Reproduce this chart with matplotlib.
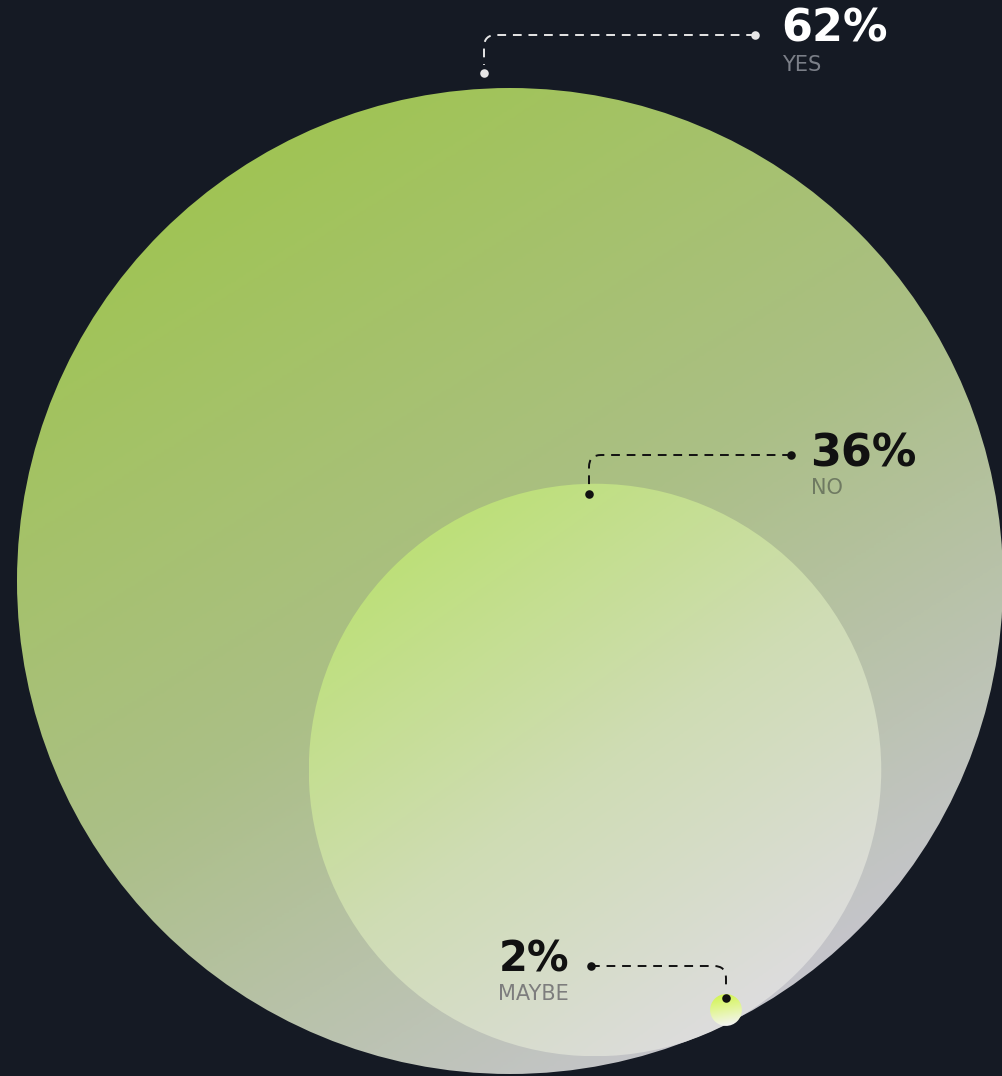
import numpy as np
import matplotlib.pyplot as plt
from matplotlib.patches import Circle, PathPatch
from matplotlib.path import Path
from matplotlib.colors import LinearSegmentedColormap

# Survey answers (share of respondents, %)
labels = ['YES', 'NO', 'MAYBE']
values = [62, 36, 2]
value_text = ['62%', '36%', '2%']

# ---- layout (pixel space of the 1003x1076 picture) ----
W, H = 1003, 1076
px_per_pt = 493 / 62          # circle radius grows linearly with the value
centers = [(510, 581), (595, 770), (726, 1010)]
grad_colors = [['#a0c455', '#abbf86', '#c5c5cb'],
               ['#bde079', '#cfdcb4', '#dddddd'],
               ['#d2f452', '#e4f6a0', '#f4f4f4']]
grad_angle = [58, 55, 80]

bg = '#151a24'
fig = plt.figure(figsize=(W / 100, H / 100), dpi=100, facecolor=bg)
ax = fig.add_axes([0, 0, 1, 1])
ax.set_facecolor(bg)
ax.set_xlim(0, W)
ax.set_ylim(H, 0)
ax.set_aspect('equal')
ax.axis('off')


def gradient_circle(cx, cy, r, cols, angle, z):
    n = 400
    xs = np.linspace(cx - r, cx + r, n)
    ys = np.linspace(cy - r, cy + r, n)
    X, Y = np.meshgrid(xs, ys)
    a = np.deg2rad(angle)
    proj = ((X - cx) * np.cos(a) + (Y - cy) * np.sin(a)) / r
    t = np.clip(0.5 + proj / 2, 0, 1)
    cmap = LinearSegmentedColormap.from_list('g', cols)
    circ = Circle((cx, cy), r, transform=ax.transData, facecolor='none', edgecolor='none')
    ax.add_patch(circ)
    im = ax.imshow(t, cmap=cmap, vmin=0, vmax=1, extent=(cx - r, cx + r, cy + r, cy - r),
                   origin='upper', zorder=z, interpolation='bilinear')
    im.set_clip_path(circ)


for i, v in enumerate(values):
    cx, cy = centers[i]
    gradient_circle(cx, cy, v * px_per_pt, grad_colors[i], grad_angle[i], z=i + 1)


def leader(start, end, color, corner=12):
    # horizontal dashed run from the label dot, then a rounded turn down to the circle dot
    sx, sy = start
    ex, ey = end
    d = 1 if ex > sx else -1
    verts = [(sx, sy), (ex - d * corner, sy), (ex, sy), (ex, sy + corner), (ex, ey)]
    codes = [Path.MOVETO, Path.LINETO, Path.CURVE3, Path.CURVE3, Path.LINETO]
    ax.add_patch(PathPatch(Path(verts, codes), fill=False, edgecolor=color, lw=1.4,
                           linestyle=(0, (4.5, 3.5)), zorder=10))
    ax.scatter([sx, ex], [sy, ey + 8], s=38, color=color, zorder=11, linewidths=0)


# label anchors
label_dot = [(755, 35), (791, 455), (591, 966)]
circle_dot = [(484, 65), (589, 486), (726, 990)]
line_col = ['#e6e6e6', '#111111', '#111111']
num_col = ['#ffffff', '#111111', '#111111']
sub_col = ['#7b7f88', '#6f7a62', '#7d7d7d']

for i in range(3):
    leader(label_dot[i], circle_dot[i], line_col[i])

font = 'DejaVu Sans'
ax.text(781, 29, value_text[0], color=num_col[0], fontsize=32, fontweight='bold',
        family=font, va='center', ha='left', zorder=12)
ax.text(782, 65, labels[0], color=sub_col[0], fontsize=15, family=font,
        va='center', ha='left', zorder=12)
ax.text(810, 454, value_text[1], color=num_col[1], fontsize=32, fontweight='bold',
        family=font, va='center', ha='left', zorder=12)
ax.text(811, 488, labels[1], color=sub_col[1], fontsize=15, family=font,
        va='center', ha='left', zorder=12)
ax.text(569, 959, value_text[2], color=num_col[2], fontsize=30, fontweight='bold',
        family=font, va='center', ha='right', zorder=12)
ax.text(569, 994, labels[2], color=sub_col[2], fontsize=15, family=font,
        va='center', ha='right', zorder=12)

fig.savefig('out.png', dpi=100, facecolor=bg)
